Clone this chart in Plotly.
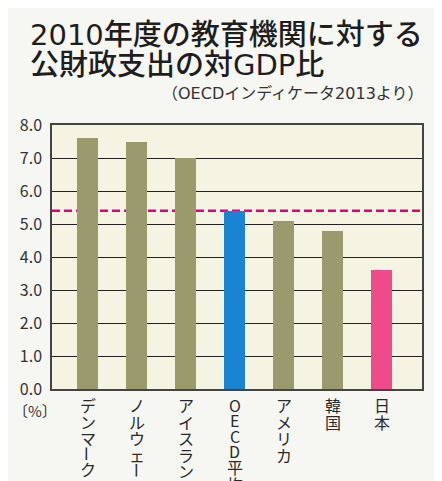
import plotly.graph_objects as go

categories = ["デンマーク", "ノルウェー", "アイスランド", "OECD平均", "アメリカ", "韓国", "日本"]
values = [7.6, 7.5, 7.0, 5.4, 5.1, 4.8, 3.6]
bar_colors = ["#9a9a6c", "#9a9a6c", "#9a9a6c", "#1a84d2", "#9a9a6c", "#9a9a6c", "#ee4b8b"]
oecd_avg = 5.4
y_ticks = [0, 1, 2, 3, 4, 5, 6, 7, 8]

title_year = "2010"
title1_rest = "年度の教育機関に対する"
title2_a = "公財政支出の対"
title2_b = "GDP"
title2_c = "比"
sub_a, sub_b, sub_c, sub_d, sub_e = "（", "OECD", "インディケータ", "2013", "より）"
unit_label = "〔%〕"

FONT = "Noto Sans CJK JP, Noto Sans, sans-serif"
LAT = "font-family:DejaVu Sans"

fig = go.Figure()
fig.add_trace(go.Bar(
    x=list(range(len(categories))), y=values,
    marker=dict(color=bar_colors, line=dict(width=0)),
    width=0.43, showlegend=False, hoverinfo="skip",
))

fig.add_shape(type="line", xref="paper", yref="y", x0=0, x1=1, y0=oecd_avg, y1=oecd_avg,
              line=dict(color="#e4007f", width=2.5, dash="8px,4px"), layer="below")

annotations = []
# vertical (tategaki) category labels, one glyph per row
for i, cat in enumerate(categories):
    off = 8
    for ch in cat:
        if ch == "ー":
            step = 14
        elif ch.isascii():
            step = 15.5
        else:
            step = 16.5
        off += step / 2
        annotations.append(dict(
            x=i, y=0, xref="x", yref="y", text=ch, showarrow=False,
            yshift=-off, xanchor="center", yanchor="middle",
            textangle=90 if ch == "ー" else 0,
            font=dict(family=FONT, size=16, color="#2a2a2a"),
        ))
        off += step / 2

PX_L, PX_B, W_PLOT, H_PLOT = 44, 381, 370, 264

def px(xp):
    return (xp - PX_L) / W_PLOT

def py(yp):
    return (PX_B - yp) / H_PLOT

t1 = f"<span style='{LAT}'>{title_year}</span>{title1_rest}"
t2 = f"{title2_a}<span style='{LAT}'>{title2_b}</span>{title2_c}"
st = f"{sub_a}<span style='{LAT}'>{sub_b}</span>{sub_c}<span style='{LAT}'>{sub_d}</span>{sub_e}"

annotations += [
    dict(x=px(20), y=py(24), xref="paper", yref="paper", text=t1, showarrow=False,
         xanchor="left", yanchor="middle",
         font=dict(family=FONT, size=29, color="#1e1e1e", weight=500)),
    dict(x=px(20), y=py(54), xref="paper", yref="paper", text=t2, showarrow=False,
         xanchor="left", yanchor="middle",
         font=dict(family=FONT, size=29, color="#1e1e1e", weight=500)),
    dict(x=px(418), y=py(84), xref="paper", yref="paper", text=st, showarrow=False,
         xanchor="right", yanchor="middle", font=dict(family=FONT, size=16, color="#333333")),
    dict(x=px(27), y=py(402), xref="paper", yref="paper", text=unit_label, showarrow=False,
         xanchor="center", yanchor="middle", font=dict(family=FONT, size=15, color="#333333")),
]

fig.update_layout(
    width=442, height=481,
    margin=dict(l=44, r=28, t=117, b=100),
    paper_bgcolor="#f6f6f2", plot_bgcolor="#f5f4e2",
    annotations=annotations,
    bargap=0,
)
fig.update_xaxes(range=[-0.73, 6.82], showticklabels=False, showgrid=False, zeroline=False,
                 showline=True, linecolor="#444444", linewidth=1.5, mirror=True, ticks="")
fig.update_yaxes(range=[0, 8], tickvals=y_ticks, tickformat=".1f", showgrid=True,
                 gridcolor="#222222", gridwidth=1, zeroline=False,
                 showline=True, linecolor="#444444", linewidth=1.5, mirror=True,
                 ticks="", ticklabelstandoff=5,
                 tickfont=dict(family=FONT, size=16, color="#333333"))

fig.write_html("out.html")
